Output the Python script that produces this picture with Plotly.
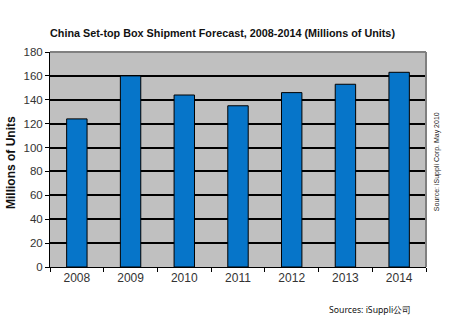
import plotly.graph_objects as go

years = ["2008", "2009", "2010", "2011", "2012", "2013", "2014"]
shipments = [124, 160, 144, 135, 146, 153, 163]
y_ticks = [0, 20, 40, 60, 80, 100, 120, 140, 160, 180]

title_text = "China Set-top Box Shipment Forecast, 2008-2014 (Millions of Units)"
y_title = "Millions of Units"
side_note = "Source: iSuppli Corp. May 2010"
bottom_note = "Sources: iSuppli公司"

fig = go.Figure()
fig.add_trace(go.Bar(
    x=years, y=shipments, width=0.38,
    marker=dict(color="#0675C9", line=dict(color="#000000", width=1)),
))

fig.update_layout(
    width=450, height=323,
    margin=dict(l=50, r=24, t=51.5, b=55.5),
    paper_bgcolor="white", plot_bgcolor="#C0C0C0",
    showlegend=False,
    font=dict(family="Liberation Sans, Arial, sans-serif", color="#222"),
    title=dict(text="<b>" + title_text + "</b>", x=222.5/450, xanchor="center",
               y=1 - 33/323, yanchor="middle",
               font=dict(size=10.8, color="#111")),
    xaxis=dict(
        showline=True, linecolor="black", linewidth=1,
        ticks="outside", tickson="boundaries", ticklen=4, tickcolor="black",
        tickfont=dict(size=12, color="#333"), showgrid=False,
    ),
    yaxis=dict(
        range=[0, 180], tickvals=y_ticks, showline=True, linecolor="black", linewidth=1,
        ticks="outside", ticklen=4, tickcolor="black",
        tickfont=dict(size=11.5, color="#333"),
        showgrid=True, gridcolor="#000000", gridwidth=1.5, zeroline=False,
    ),
    shapes=[
        dict(type="line", xref="paper", yref="paper", x0=0, x1=1, y0=1, y1=1,
             line=dict(color="#808080", width=2)),
        dict(type="line", xref="paper", yref="paper", x0=1, x1=1, y0=0, y1=1,
             line=dict(color="#808080", width=2)),
    ],
    annotations=[
        dict(text="<b>" + y_title + "</b>", xref="paper", yref="paper",
             x=(11-50)/376, y=(267.5-163)/216, textangle=-90, showarrow=False,
             xanchor="center", yanchor="middle", font=dict(size=12, color="#111")),
        dict(text=side_note, xref="paper", yref="paper", x=1 + 10.5/376, y=0.49,
             textangle=-90, showarrow=False, xanchor="center", yanchor="middle",
             font=dict(size=7, color="#222")),
        dict(text=bottom_note, xref="paper", yref="paper", x=(413-50)/376, y=-(311-267.5)/216,
             showarrow=False, xanchor="right", yanchor="middle",
             font=dict(size=8.7, color="#111", family="Noto Sans, Liberation Sans")),
    ],
)

fig.write_html("out.html")
